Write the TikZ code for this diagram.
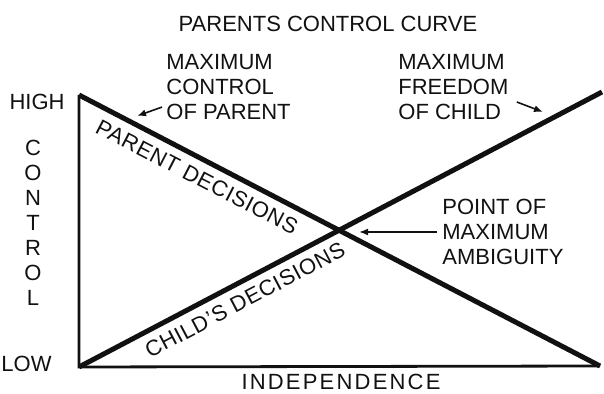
\documentclass[tikz,border=0pt]{standalone}
\usepackage{fontspec}
\setmainfont{Liberation Sans}
\usetikzlibrary{arrows.meta,positioning,calc}
\definecolor{ink}{HTML}{111111}
\tikzset{
  lab/.style={font=\fontsize{11}{12.5}\selectfont,text=ink,inner sep=0pt},
  blk/.style={lab,align=left,anchor=west},
  slant/.style={lab,font=\fontsize{11}{12.5}\selectfont\addfontfeature{LetterSpace=3}},
  diag/.style={draw=ink,line width=2.5pt},
  axisln/.style={draw=ink,line width=1.4pt},
  arr/.style={-{Latex[length=4.5pt,width=3.5pt]},draw=ink,line width=0.8pt},
}

\begin{document}
\begin{tikzpicture}[x=0.5pt,y=-0.5pt]
  \useasboundingbox (0,0) rectangle (604,394);
  % corners of the chart
  \coordinate (hi) at (79,95);
  \coordinate (lo) at (79,367);
  \coordinate (br) at (600,366);
  \coordinate (tr) at (602,92);
  \draw[axisln,line join=miter] (hi) -- (lo) -- (br);
  \draw[diag] (hi) -- (br);
  \draw[diag] (lo) -- (tr);
  \coordinate (mid) at (intersection of hi--br and lo--tr);

  \node[lab] (title) at (328,24) {PARENTS CONTROL CURVE};
  \node[blk] (maxctl) at (166,87) {MAXIMUM\\CONTROL\\OF PARENT};
  \node[blk] (maxfree) at (398,87) {MAXIMUM\\FREEDOM\\OF CHILD};
  \node[blk] (amb) at (442,232) {POINT OF\\MAXIMUM\\AMBIGUITY};
  \node[lab,anchor=east] (high) at (65,102) {HIGH};
  \node[lab,anchor=east] (low) at (52,364) {LOW};
  \node[lab,align=center] (ctl) at (33,223) {C\\O\\N\\T\\R\\O\\L};
  \node[lab] (indep) at (341,382) {\addfontfeature{LetterSpace=10}INDEPENDENCE};
  \node[slant,rotate=-27.4] (pardec) at (197,177) {PARENT DECISIONS};
  \node[slant,rotate=27.8] (chdec) at (245,300) {CHILD'S DECISIONS};

  % arrows to the lines
  \coordinate (ctltip) at (137,116);
  \coordinate (freetip) at (543,112);
  \draw[arr] ([shift={(-4,-13)}]maxctl.south west) -- (ctltip);
  \draw[arr] ([shift={(8,15)}]maxfree.east) -- (freetip);
  \draw[arr] ([xshift=-2.5pt]amb.west) -- ($(mid |- amb.west)+(20,0)$);
\end{tikzpicture}
\end{document}
